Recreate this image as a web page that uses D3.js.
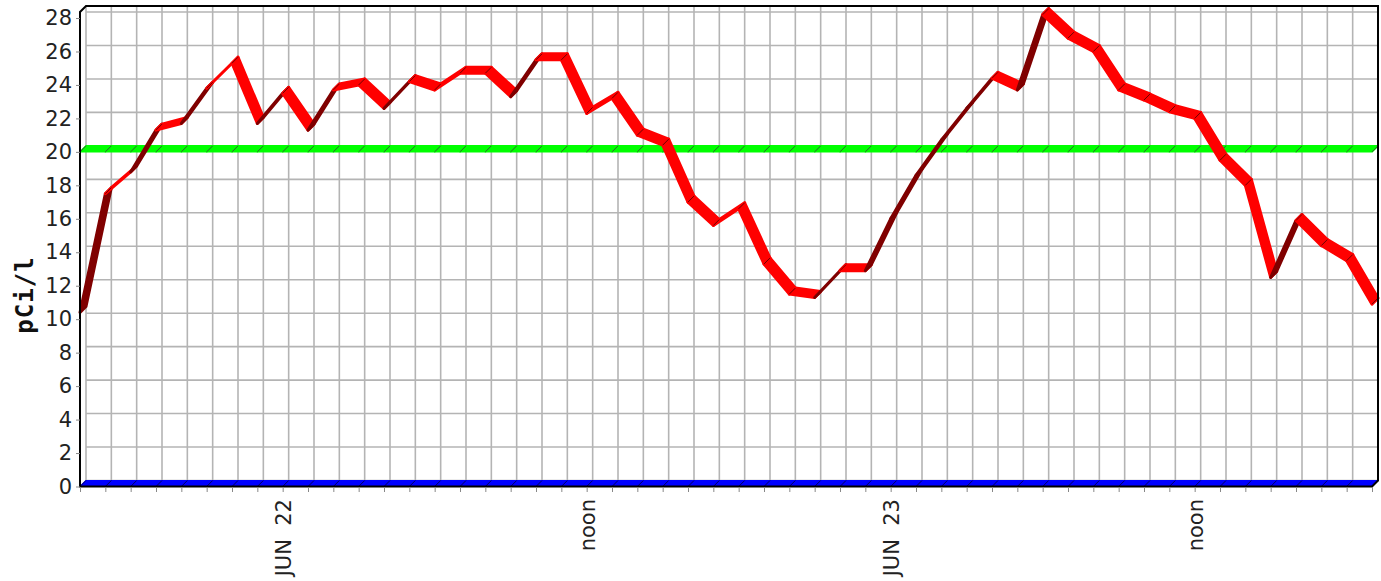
<!DOCTYPE html>
<html>
<head>
<meta charset="utf-8">
<script src="https://cdn.jsdelivr.net/npm/d3@7"></script>
<style>
  body { margin: 0; background: #fff; }
  svg { display: block; }
</style>
</head>
<body>
<div id="chart"></div>
<script>
// hourly readings, Jun 21 16:00 .. Jun 23 19:00
const startHour = new Date(2011, 5, 21, 16);
const endHour = new Date(2011, 5, 23, 19);
const radon = [10.4, 17.5, 18.8, 21.3, 21.7, 23.8, 25.3, 21.7, 23.5, 21.3,
               23.7, 24.0, 22.6, 24.2, 23.7, 24.7, 24.7, 23.3, 25.5, 25.5,
               22.3, 23.2, 21.0, 20.4, 17.0, 15.6, 16.6, 13.3, 11.5, 11.3,
               12.9, 12.9, 16.0, 18.6, 20.7, 22.6, 24.4, 23.7, 28.2, 26.8,
               26.0, 23.7, 23.1, 22.4, 22.0, 19.5, 18.0, 12.5, 15.9, 14.4,
               13.5, 10.9];
const actionLevel = 20;
const floorLevel = 0;
const yTicks = [0, 2, 4, 6, 8, 10, 12, 14, 16, 18, 20, 22, 24, 26, 28];
const yMax = 28.36;
const yLabel = 'pCi/l';

const width = 1381, height = 581;
const D = 6; // 3d depth offset

const hours = d3.timeHour.range(startHour, d3.timeHour.offset(endHour, 1));

const svg = d3.select('#chart').append('svg')
    .attr('width', width)
    .attr('height', height);

const x = d3.scaleTime().domain([startHour, endHour]).range([80, 1372]);
const y = d3.scaleLinear().domain([0, yMax]).range([486.5, 12]);

// back wall grid
const grid = svg.append('g').attr('stroke', '#b4b4b4').attr('stroke-width', 1.6);
grid.selectAll('line.v')
    .data(hours)
    .enter().append('line')
    .attr('x1', d => x(d) + D).attr('x2', d => x(d) + D)
    .attr('y1', y(yMax) - D).attr('y2', y(0) - D);
grid.selectAll('line.h')
    .data(yTicks)
    .enter().append('line')
    .attr('x1', x(startHour) + D).attr('x2', x(endHour) + D)
    .attr('y1', d => y(d) - D).attr('y2', d => y(d) - D);

function ribbon(values, top, under, edge, sw) {
    const pts = hours.map((h, i) => [x(h), y(values[i])]);
    const g = svg.append('g');
    for (let i = 0; i < pts.length - 1; i++) {
        const [x0, y0] = pts[i], [x1, y1] = pts[i + 1];
        const face = (x1 - x0) + (y1 - y0) >= 0 ? top : under;
        g.append('polygon')
            .attr('points', [[x0, y0], [x1, y1], [x1 + D, y1 - D], [x0 + D, y0 - D]].join(' '))
            .attr('fill', face)
            .attr('stroke', face)
            .attr('stroke-width', sw)
            .attr('stroke-linejoin', 'round');
    }
    g.selectAll('line')
        .data(pts)
        .enter().append('line')
        .attr('x1', d => d[0]).attr('y1', d => d[1])
        .attr('x2', d => d[0] + D).attr('y2', d => d[1] - D)
        .attr('stroke', edge)
        .attr('stroke-width', 1);
}

ribbon(hours.map(() => floorLevel), '#0000ff', '#000080', '#000060', 1.2);
ribbon(hours.map(() => actionLevel), '#00ff00', '#008000', '#2f5f2f', 1.5);
ribbon(radon, '#ff0000', '#800000', '#700000', 3);

// frame
svg.append('path')
    .attr('d', `M${x(startHour)},${y(0)}V${y(yMax)}L${x(startHour) + D},${y(yMax) - D}` +
               `H${x(endHour) + D}V${y(0) - D}L${x(endHour)},${y(0)}Z`)
    .attr('fill', 'none')
    .attr('stroke', '#000')
    .attr('stroke-width', 2);

// axes
const yAxis = svg.append('g')
    .attr('transform', `translate(${x(startHour)},0)`)
    .call(d3.axisLeft(y).tickValues(yTicks).tickSize(4).tickPadding(4));
yAxis.select('.domain').remove();
yAxis.selectAll('line').attr('stroke', '#888');
yAxis.selectAll('text')
    .attr('font-family', 'DejaVu Sans')
    .attr('font-size', 21)
    .attr('fill', '#222');

const fmt = d => d.getHours() === 0 ? 'JUN\u00a0\u00a0' + d.getDate()
             : d.getHours() === 12 ? 'noon' : '';
const xAxis = svg.append('g')
    .attr('transform', `translate(0,${y(0) + 0.5})`)
    .call(d3.axisBottom(x).ticks(d3.timeHour.every(1)).tickSize(5).tickFormat(fmt));
xAxis.select('.domain').remove();
xAxis.selectAll('line').attr('stroke', '#888');
xAxis.selectAll('text')
    .attr('transform', 'rotate(-90)')
    .attr('x', -12)
    .attr('y', 0)
    .attr('dy', '0.36em')
    .attr('text-anchor', 'end')
    .attr('font-family', 'DejaVu Sans')
    .attr('font-size', 21)
    .attr('fill', '#222');

svg.append('text')
    .attr('transform', 'translate(33,295) rotate(-90)')
    .attr('text-anchor', 'middle')
    .attr('font-family', 'DejaVu Sans Mono')
    .attr('font-weight', 'bold')
    .attr('font-size', 24)
    .attr('letter-spacing', 1)
    .attr('fill', '#111')
    .text(yLabel);
</script>
</body>
</html>
